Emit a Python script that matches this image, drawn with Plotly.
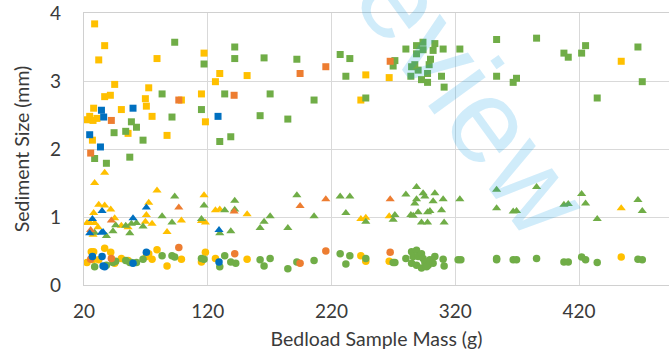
import plotly.graph_objects as go

# ---------------- data (Bedload sample mass g, sediment size mm) ----------------
green_sq_x = [28.6, 38.1, 57.0, 44.3, 53.7, 58.3, 62.4, 67.7, 83.1, 91.1, 93.3, 114.9, 117.0, 133.7, 129.7,
              138.6, 141.8, 141.8, 162.3, 165.5, 170.4, 184.7, 192.0, 205.9, 227.0, 234.8, 231.6, 247.7,
              271.2, 269.8, 280.1, 288.7, 293.9, 294.0, 288.7, 303.5, 302.1, 310.2, 300.0, 298.9, 287.3,
              284.7, 290.0, 297.6, 284.1, 292.7, 297.6, 308.9, 311.0, 323.7, 353.4, 385.7, 353.4, 366.8,
              369.5, 407.8, 411.3, 422.1, 425.3, 434.7, 467.6, 471.1]
green_sq_y = [1.86, 1.79, 1.88, 2.24, 2.26, 2.40, 2.32, 2.13, 2.81, 2.47, 3.57, 2.58, 3.25, 2.81, 2.11,
              2.18, 3.50, 3.33, 2.49, 3.34, 2.81, 2.44, 3.32, 2.72, 3.39, 3.33, 3.07, 2.75,
              3.30, 3.22, 3.47, 3.52, 3.57, 3.46, 3.40, 3.55, 3.45, 3.47, 3.32, 3.24, 3.24,
              3.21, 3.16, 3.11, 3.07, 3.02, 2.98, 3.07, 2.91, 3.47, 3.61, 3.63, 3.07, 2.98,
              3.04, 3.41, 3.35, 3.41, 3.52, 2.75, 3.50, 2.99]

green_tri_x = [28.6, 38.1, 43.4, 45.6, 53.7, 57.0, 58.3, 62.4, 67.7, 83.1, 91.1, 93.3, 114.9, 117.0, 129.7,
               133.7, 138.6, 141.8, 141.8, 162.3, 165.5, 170.4, 184.7, 192.0, 205.9, 227.0, 234.8, 231.6,
               247.7, 280.1, 288.7, 294.0, 295.4, 303.5, 302.1, 310.2, 288.7, 287.3, 271.2, 269.8, 284.1,
               286.0, 290.0, 297.6, 299.5, 308.9, 292.7, 297.6, 311.0, 323.7, 353.4, 385.7, 353.4, 366.8,
               369.5, 407.8, 411.3, 422.1, 425.3, 434.7, 467.6, 471.1]
green_tri_y = [0.77, 0.72, 0.79, 0.88, 0.87, 0.76, 0.90, 0.91, 0.86, 1.01, 0.92, 1.30, 0.97, 1.17, 0.76,
               1.10, 0.79, 1.24, 1.11, 0.84, 0.93, 1.01, 0.84, 1.32, 1.01, 1.30, 1.30, 1.06,
               0.93, 1.33, 1.44, 1.35, 1.30, 1.35, 1.23, 1.26, 1.26, 1.20, 1.03, 0.96, 1.03,
               1.02, 1.07, 1.07, 1.09, 1.10, 0.92, 0.92, 0.92, 1.26, 1.40, 1.44, 1.13, 1.08,
               1.09, 1.18, 1.19, 1.34, 1.20, 0.97, 1.25, 1.09]

green_cir_x = [28.6, 38.1, 43.4, 45.6, 53.7, 57.0, 58.3, 62.4, 67.7, 83.1, 91.1, 93.3, 114.9, 117.0, 129.7,
               133.7, 138.6, 142.6, 162.3, 165.5, 170.4, 184.7, 192.0, 205.9, 227.0, 234.8, 231.6, 247.7,
               271.2, 269.8, 280.1, 284.7, 288.7, 286.0, 290.0, 292.7, 294.0, 295.4, 284.7, 288.7, 292.7,
               298.1, 299.5, 303.5, 302.1, 310.2, 311.0, 296.8, 322.3, 324.5, 353.4, 353.4, 366.8, 369.5,
               385.7, 407.8, 411.3, 422.1, 425.3, 434.7, 467.6, 471.1]
green_cir_y = [0.27, 0.29, 0.33, 0.35, 0.36, 0.33, 0.33, 0.33, 0.38, 0.43, 0.43, 0.41, 0.39, 0.38, 0.27,
               0.43, 0.34, 0.32, 0.37, 0.28, 0.39, 0.24, 0.34, 0.36, 0.46, 0.43, 0.31, 0.39,
               0.33, 0.33, 0.39, 0.49, 0.51, 0.42, 0.42, 0.46, 0.39, 0.34, 0.32, 0.29, 0.25,
               0.29, 0.37, 0.42, 0.32, 0.38, 0.28, 0.27, 0.37, 0.37, 0.39, 0.37, 0.37, 0.37,
               0.39, 0.34, 0.34, 0.41, 0.37, 0.33, 0.38, 0.37]

yellow_sq_x = [28.6, 36.7, 31.9, 79.0, 117.0, 129.7, 126.2, 44.8, 72.3, 36.7, 41.3, 69.6, 70.4, 27.8, 50.2,
               75.0, 114.9, 118.1, 22.4, 24.6, 27.3, 30.5, 87.1, 55.6, 26.8, 98.7, 151.8, 247.7, 266.6,
               243.7, 454.1]
yellow_sq_y = [3.84, 3.52, 3.31, 3.33, 3.41, 3.11, 2.99, 2.95, 2.90, 2.77, 2.79, 2.74, 2.63, 2.60, 2.58,
               2.48, 2.81, 2.40, 2.43, 2.48, 2.42, 2.45, 2.20, 2.23, 2.13, 2.72, 3.08, 3.09, 3.05,
               2.72, 3.29]

yellow_tri_x = [36.7, 28.6, 79.0, 117.0, 72.3, 31.9, 36.7, 41.6, 27.8, 70.4, 44.8, 22.4, 24.6, 28.6, 31.3,
                50.2, 55.6, 75.0, 69.6, 98.7, 87.1, 27.3, 114.9, 118.1, 129.7, 126.2, 151.8, 243.7, 247.7,
                266.6, 454.1]
yellow_tri_y = [1.65, 1.50, 1.39, 1.32, 1.21, 1.18, 1.17, 1.11, 1.06, 1.03, 0.98, 0.91, 0.92, 0.91, 0.85,
                0.87, 0.85, 0.90, 0.93, 0.95, 0.78, 0.74, 0.94, 0.92, 1.11, 1.10, 1.04, 0.97, 0.99,
                1.01, 1.13]

yellow_cir_x = [36.7, 27.8, 25.9, 41.6, 79.0, 72.3, 118.1, 22.4, 27.3, 31.9, 44.8, 50.2, 55.6, 75.0, 70.4,
                87.1, 98.7, 114.9, 126.2, 151.8, 243.7, 247.7, 266.6, 454.1]
yellow_cir_y = [0.54, 0.49, 0.49, 0.48, 0.52, 0.46, 0.48, 0.33, 0.37, 0.37, 0.32, 0.39, 0.36, 0.38, 0.42,
                0.28, 0.38, 0.34, 0.39, 0.38, 0.43, 0.35, 0.35, 0.41]

orange_sq_x = [96.6, 141.3, 42.1, 25.4, 194.6, 215.4, 267.4]
orange_sq_y = [2.72, 2.79, 2.42, 1.94, 3.11, 3.21, 3.29]
orange_tri_x = [96.6, 42.1, 25.4, 141.3, 194.6, 215.4, 267.4]
orange_tri_y = [1.14, 0.95, 0.81, 1.08, 1.16, 1.26, 1.26]
orange_cir_x = [96.6, 25.4, 42.1, 141.8, 194.6, 215.4, 267.4]
orange_cir_y = [0.55, 0.38, 0.39, 0.46, 0.32, 0.50, 0.48]

blue_sq_x = [24.6, 33.3, 34.1, 35.9, 59.6, 128.3]
blue_sq_y = [2.21, 2.03, 2.57, 2.47, 2.60, 2.48]
blue_tri_x = [34.6, 70.4, 59.6, 26.8, 34.1, 35.4, 24.6, 129.1]
blue_tri_y = [1.09, 1.14, 0.98, 0.97, 0.77, 0.78, 0.76, 0.81]
blue_cir_x = [34.6, 70.4, 59.6, 35.4, 36.7, 26.8, 129.1]
blue_cir_y = [0.42, 0.48, 0.32, 0.28, 0.27, 0.42, 0.34]

x_ticks = [20, 120, 220, 320, 420]
y_ticks = [0, 1, 2, 3, 4]

YELLOW = "#FFC000"
GREEN = "#70AD47"
ORANGE = "#ED7D31"
BLUE = "#0070C0"

series = [
    (yellow_sq_x, yellow_sq_y, "square", YELLOW, 7),
    (yellow_tri_x, yellow_tri_y, "triangle-up", YELLOW, 8),
    (yellow_cir_x, yellow_cir_y, "circle", YELLOW, 7.5),
    (green_sq_x, green_sq_y, "square", GREEN, 7),
    (green_tri_x, green_tri_y, "triangle-up", GREEN, 8),
    (green_cir_x, green_cir_y, "circle", GREEN, 7.5),
    (orange_sq_x, orange_sq_y, "square", ORANGE, 7),
    (orange_tri_x, orange_tri_y, "triangle-up", ORANGE, 8),
    (orange_cir_x, orange_cir_y, "circle", ORANGE, 7.5),
    (blue_sq_x, blue_sq_y, "square", BLUE, 7),
    (blue_tri_x, blue_tri_y, "triangle-up", BLUE, 8),
    (blue_cir_x, blue_cir_y, "circle", BLUE, 7.5),
]

fig = go.Figure()
for xs, ys, sym, col, sz in series:
    fig.add_trace(go.Scatter(
        x=xs, y=ys, mode="markers",
        marker=dict(symbol=sym, color=col, size=sz, line=dict(width=0)),
        showlegend=False, hoverinfo="x+y",
    ))

FONT = "Lato, Carlito, 'Liberation Sans', sans-serif"
TXT = "#3a3a3a"

fig.update_layout(
    width=669, height=356,
    margin=dict(l=84, r=0, t=13, b=71),
    paper_bgcolor="white", plot_bgcolor="white",
    font=dict(family=FONT, color=TXT, size=19),
    xaxis=dict(
        range=[20, 492.7], tickvals=x_ticks, ticktext=[str(v) for v in x_ticks],
        showgrid=True, gridcolor="#d9d9d9", gridwidth=1.3,
        showline=True, linecolor="#d0d0d0", linewidth=1.3, mirror=True,
        zeroline=False, ticks="", ticklabelstandoff=9,
        tickfont=dict(size=19, color=TXT),
        title=dict(text="Bedload Sample Mass (g)", font=dict(size=19.5, color=TXT), standoff=11),
    ),
    yaxis=dict(
        range=[0, 4], tickvals=y_ticks, ticktext=[str(v) for v in y_ticks],
        showgrid=True, gridcolor="#d9d9d9", gridwidth=1.3,
        showline=True, linecolor="#d0d0d0", linewidth=1.3, mirror=True,
        zeroline=False, ticks="", ticklabelstandoff=18,
        tickfont=dict(size=19, color=TXT),
        title=dict(text="Sediment Size (mm)", font=dict(size=19.5, color=TXT), standoff=15),
    ),
    annotations=[dict(
        text="Preview", xref="paper", yref="paper", x=0.605, y=0.87,
        xanchor="center", yanchor="middle", showarrow=False, textangle=54,
        font=dict(family="'Liberation Sans', Arial, sans-serif", size=120, color="rgba(0,150,230,0.184)"),
    )],
)

fig.write_html("out.html")
